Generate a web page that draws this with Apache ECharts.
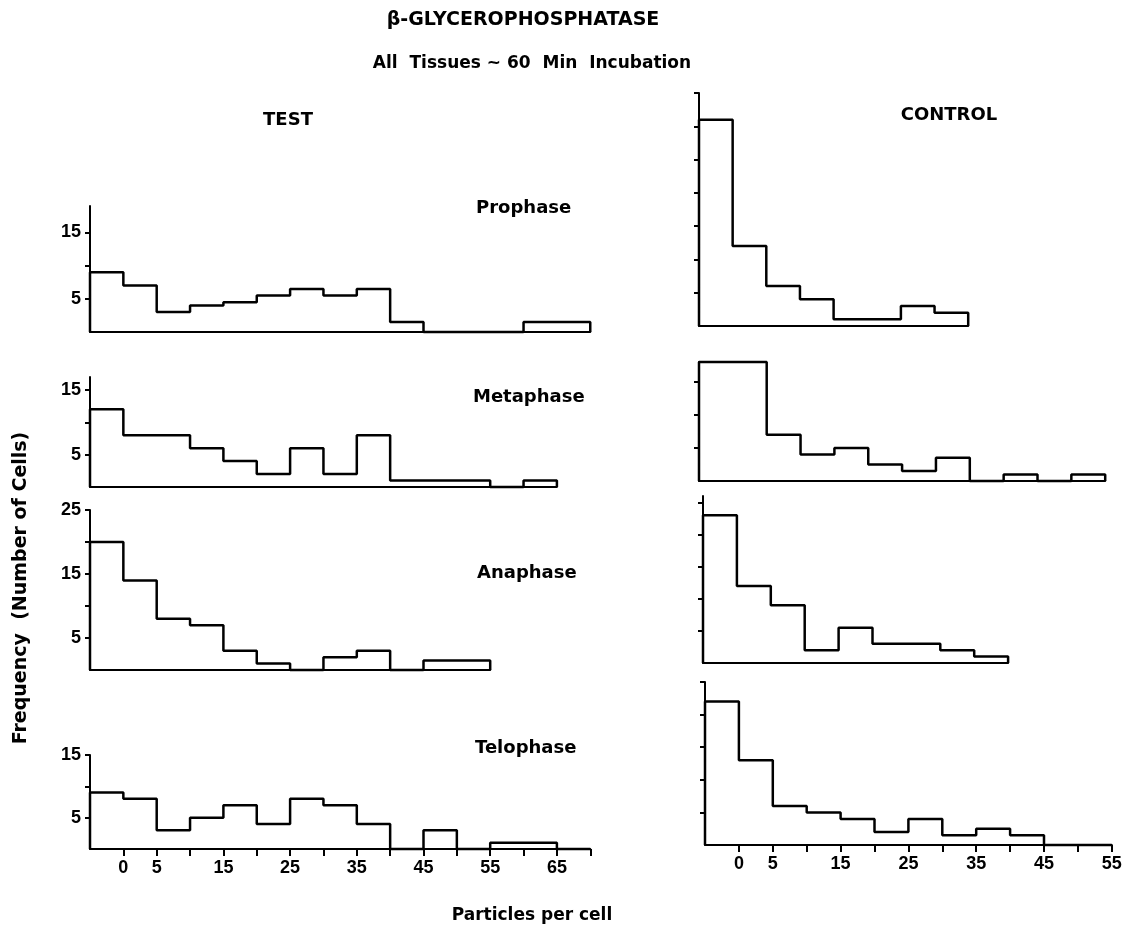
<!DOCTYPE html>
<html>
<head>
<meta charset="utf-8">
<script src="https://cdn.jsdelivr.net/npm/echarts@6/dist/echarts.min.js"></script>
<style>
  html, body { margin: 0; padding: 0; background: #fff; }
  #chart { width: 1127px; height: 936px; }
</style>
</head>
<body>
<div id="chart"></div>
<script>
// Histogram bins: 5 particles per cell wide, first bin starts at -5
const binStart = -5;
const binWidth = 5;

// TEST: number of cells per bin
const testProphase  = [9, 7, 3, 4, 4.5, 5.5, 6.5, 5.5, 6.5, 1.5, 0, 0, 0, 1.5, 1.5];
const testMetaphase = [12, 8, 8, 6, 4, 2, 6, 2, 8, 1, 1, 1, 0, 1];
const testAnaphase  = [20, 14, 8, 7, 3, 1, 0, 2, 3, 0, 1.5, 1.5];
const testTelophase = [9, 8, 3, 5, 7, 4, 8, 7, 4, 0, 3, 0, 1, 1, 0];

// CONTROL: number of cells per bin
const controlProphase  = [31, 12, 6, 4, 1, 1, 3, 2];
const controlMetaphase = [18, 18, 7, 4, 5, 2.5, 1.5, 3.5, 0, 1, 0, 1];
const controlAnaphase  = [23, 12, 9, 2, 5.5, 3, 3, 2, 1];
const controlTelophase = [22, 13, 6, 5, 4, 2, 4, 1.5, 2.5, 1.5, 0, 0];

// Axis ticks and labels
const yTicks15 = [5, 10, 15];
const yLabels15 = [5, 15];
const yTicks25 = [5, 10, 15, 20, 25];
const yLabels25 = [5, 15, 25];
const yTicks35 = [5, 10, 15, 20, 25, 30, 35];
const xTicksTest = [0, 5, 10, 15, 20, 25, 30, 35, 40, 45, 50, 55, 60, 65, 70];
const xLabelsTest = [0, 5, 15, 25, 35, 45, 55, 65];
const xTicksControl = [0, 5, 10, 15, 20, 25, 30, 35, 40, 45, 50, 55];
const xLabelsControl = [0, 5, 15, 25, 35, 45, 55];

const phaseNames = ['Prophase', 'Metaphase', 'Anaphase', 'Telophase'];

// Panel layout (pixel placement of each small histogram)
const panels = [
  { values: testProphase,  yMax: 19, yTicks: yTicks15, yLabels: yLabels15, left: 90,  top: 206, bottom: 332, ppu: 6.67 },
  { values: testMetaphase, yMax: 17, yTicks: yTicks15, yLabels: yLabels15, left: 90,  top: 377, bottom: 487, ppu: 6.67 },
  { values: testAnaphase,  yMax: 25, yTicks: yTicks25, yLabels: yLabels25, left: 90,  top: 510, bottom: 670, ppu: 6.67 },
  { values: testTelophase, yMax: 15, yTicks: yTicks15, yLabels: yLabels15, left: 90,  top: 755, bottom: 849, ppu: 6.67,
    xTicks: xTicksTest, xLabels: xLabelsTest },
  { values: controlProphase,  yMax: 35, yTicks: yTicks35, yLabels: [], left: 699, top: 93,  bottom: 326, ppu: 6.73 },
  { values: controlMetaphase, yMax: 18, yTicks: yTicks15, yLabels: [], left: 699, top: 362, bottom: 481, ppu: 6.77 },
  { values: controlAnaphase,  yMax: 26, yTicks: yTicks25, yLabels: [], left: 703, top: 496, bottom: 663, ppu: 6.78 },
  { values: controlTelophase, yMax: 25, yTicks: yTicks25, yLabels: [], left: 705, top: 682, bottom: 845, ppu: 6.78,
    xTicks: xTicksControl, xLabels: xLabelsControl }
];

const ink = '#000';
const numFont = 'Liberation Sans';
const textFont = 'DejaVu Sans';

// Outline of a histogram as step points: up the first edge, along each bin, down the last edge
function stepPoints(values) {
  const pts = [[binStart, 0]];
  values.forEach((v, i) => pts.push([binStart + i * binWidth, v]));
  pts.push([binStart + values.length * binWidth, 0]);
  return pts;
}

const grid = [], xAxis = [], yAxis = [], series = [];
panels.forEach((p, i) => {
  const xMax = binStart + p.values.length * binWidth;
  grid.push({
    left: p.left, top: p.top,
    width: (xMax - binStart) * p.ppu,
    height: p.bottom - p.top,
    containLabel: false
  });
  const hasX = !!p.xTicks;
  xAxis.push({
    type: 'value', gridIndex: i, min: binStart, max: xMax,
    splitLine: { show: false },
    axisLine: { show: true, onZero: false, lineStyle: { color: ink, width: 2 } },
    axisTick: hasX
      ? { show: true, customValues: p.xTicks, length: 7, inside: false, lineStyle: { color: ink, width: 2 } }
      : { show: false },
    axisLabel: hasX
      ? { show: true, customValues: p.xLabels, margin: 10, color: ink,
          fontFamily: numFont, fontWeight: 'bold', fontSize: 18 }
      : { show: false }
  });
  yAxis.push({
    type: 'value', gridIndex: i, min: 0, max: p.yMax,
    splitLine: { show: false },
    axisLine: { show: true, onZero: false, lineStyle: { color: ink, width: 2 } },
    axisTick: { show: true, customValues: p.yTicks, length: 5, lineStyle: { color: ink, width: 2 } },
    axisLabel: p.yLabels.length
      ? { show: true, customValues: p.yLabels, margin: 9, color: ink,
          fontFamily: numFont, fontWeight: 'bold', fontSize: 18 }
      : { show: false }
  });
  series.push({
    type: 'line', xAxisIndex: i, yAxisIndex: i,
    step: 'end', symbol: 'none', clip: false,
    lineStyle: { color: ink, width: 2.5 },
    data: stepPoints(p.values),
    silent: true
  });
});

function label(text, x, y, size, align, extra) {
  return Object.assign({
    type: 'text', x: x, y: y,
    style: {
      text: text, fill: ink, align: align || 'center', verticalAlign: 'middle',
      fontFamily: textFont, fontWeight: 'bold', fontSize: size
    }
  }, extra || {});
}

const graphic = [
  label('β-GLYCEROPHOSPHATASE', 523, 20, 19),
  label('All  Tissues ~ 60  Min  Incubation', 532, 64, 17),
  label('TEST', 288, 120, 18),
  label('CONTROL', 949, 115, 18),
  label(phaseNames[0], 476, 208, 18, 'left'),
  label(phaseNames[1], 473, 397, 18, 'left'),
  label(phaseNames[2], 477, 573, 18, 'left'),
  label(phaseNames[3], 475, 748, 18, 'left'),
  label('Frequency  (Number of Cells)', 21, 588, 19, 'center', { rotation: Math.PI / 2 }),
  label('Particles per cell', 532, 916, 17)
];

const chart = echarts.init(document.getElementById('chart'), null, { renderer: 'canvas' });
chart.setOption({
  animation: false,
  backgroundColor: '#fff',
  grid: grid,
  xAxis: xAxis,
  yAxis: yAxis,
  series: series,
  graphic: graphic
});
</script>
</body>
</html>
